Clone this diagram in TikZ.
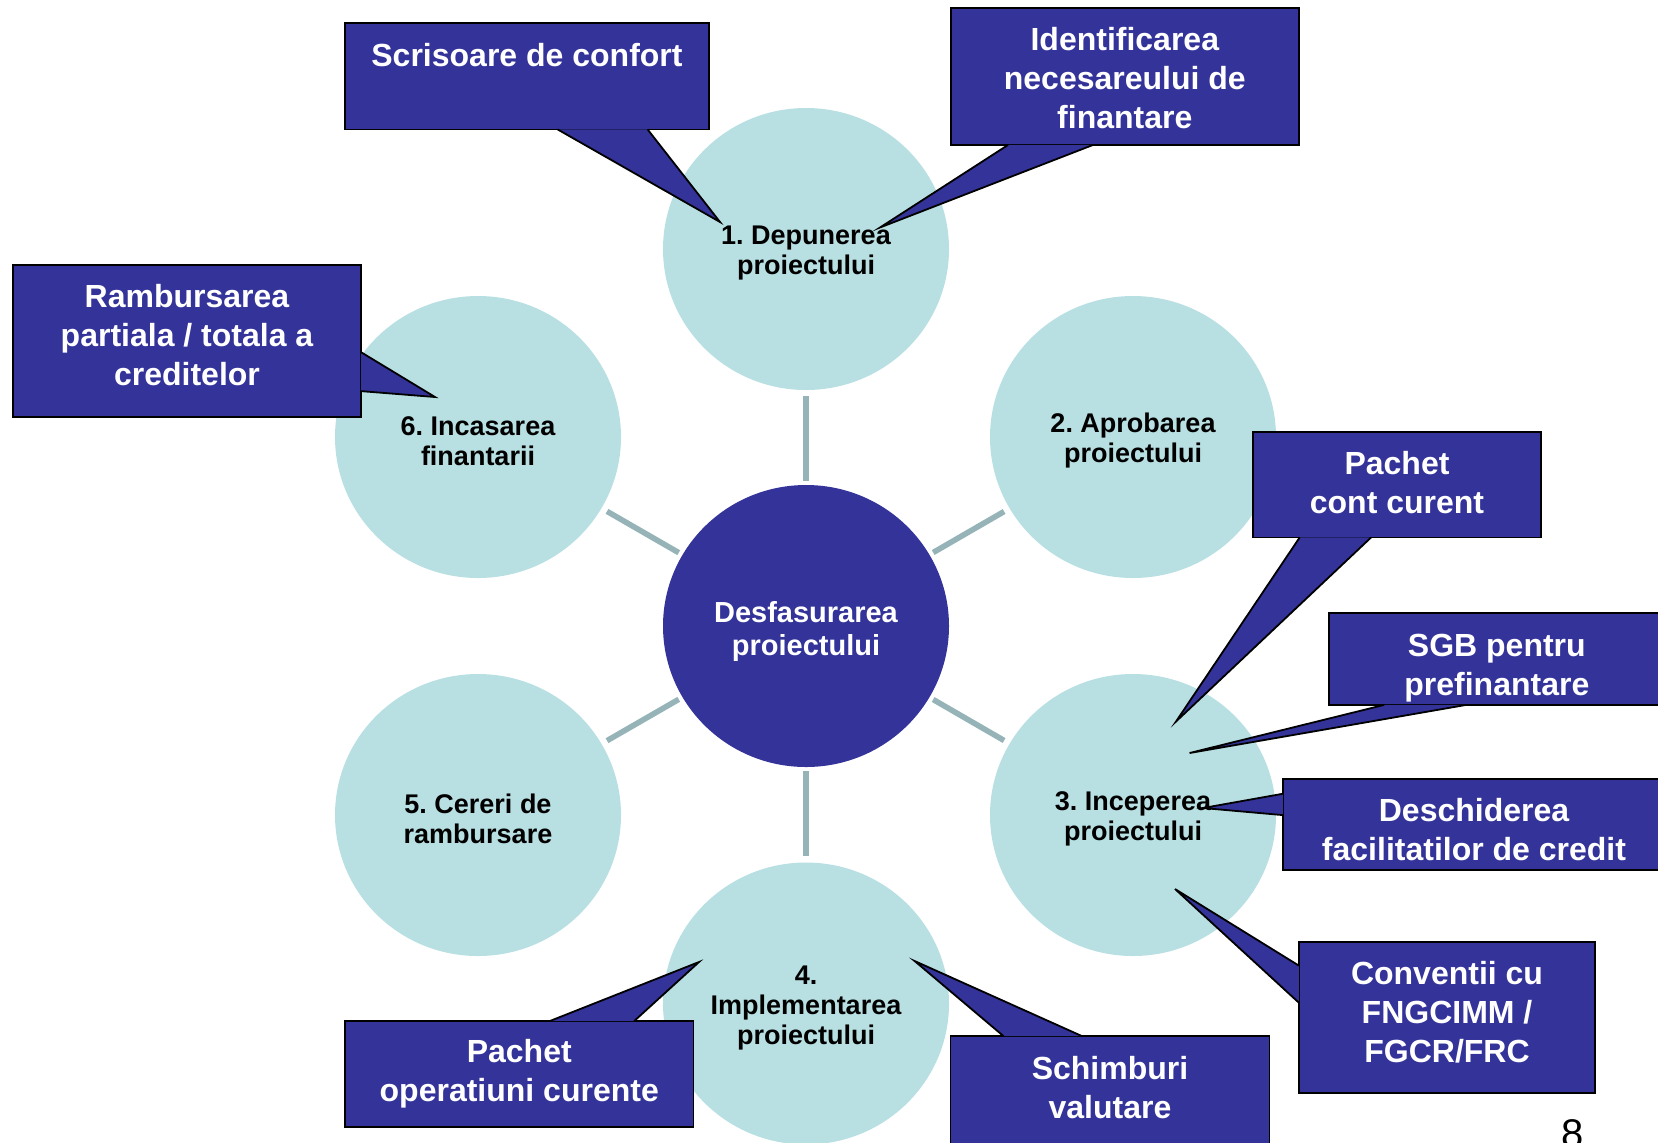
\documentclass[tikz,border=0pt]{standalone}
\usepackage{fontspec}
\setmainfont{Liberation Sans}
\usetikzlibrary{shapes.geometric,calc}
\frenchspacing

\definecolor{boxblue}{RGB}{51,51,153}
\definecolor{stagecyan}{RGB}{184,223,226}
\definecolor{spokegray}{RGB}{150,180,184}

\tikzset{
  stage/.style={ellipse, fill=stagecyan, minimum width=143pt, minimum height=141pt,
    inner sep=0pt, align=center, font=\fontsize{13.5}{14.9}\selectfont\bfseries},
  hub/.style={stage, fill=boxblue, text=white, font=\fontsize{14.5}{16.5}\selectfont\bfseries},
  note/.style={rectangle, draw=black, line width=0.9pt, fill=boxblue, text=white,
    inner sep=0pt, align=center, font=\fontsize{16}{19.4}\selectfont\bfseries},
  spoke/.style={draw=spokegray, line width=2.8pt, shorten <=3pt, shorten >=2pt},
}

% pointer of a note: base a, tip, base b
\newcommand{\pointer}[3]{%
  \fill[boxblue] #1 -- #2 -- #3 -- cycle;
  \draw[line width=0.9pt] #1 -- #2 -- #3;}
% struts to move a text a little down (top) or up (bottom)
\newcommand{\toppad}[1]{\rule{0pt}{#1}}
\newcommand{\botpad}[1]{\rule[-#1]{0pt}{0pt}}

\begin{document}
\begin{tikzpicture}[x=0.5pt, y=-0.5pt]
\useasboundingbox (0,0) rectangle (1658,1142);

% stages round the hub
\node[stage] (depunere) at (806,249) {\toppad{13.6pt}1. Depunerea\\proiectului};
\node[stage] (aprobare) at (1133,437) {\toppad{13.6pt}2. Aprobarea\\proiectului};
\node[stage] (incepere) at (1133,815) {\toppad{13.6pt}3. Inceperea\\proiectului};
\node[stage] (implement) at (806,1003.5) {\toppad{13.6pt}4.\\Implementarea\\proiectului};
\node[stage] (cereri) at (478,815) {\toppad{13.6pt}5. Cereri de\\rambursare};
\node[stage] (incasare) at (478,437) {\toppad{13.6pt}6. Incasarea\\finantarii};
\node[hub] (desfasurare) at (806,626) {\toppad{15.6pt}Desfasurarea\\proiectului};

% spokes
\draw[spoke] (depunere) -- (desfasurare);
\draw[spoke] (aprobare) -- (desfasurare);
\draw[spoke] (incepere) -- (desfasurare);
\draw[spoke] (implement) -- (desfasurare);
\draw[spoke] (cereri) -- (desfasurare);
\draw[spoke] (incasare) -- (desfasurare);

% notes
\node[note, minimum width=182pt, minimum height=53.25pt] (scrisoare) at (527,76.25) {Scrisoare de confort\\\botpad{2pt}};
\node[note, minimum width=174.2pt, minimum height=68.5pt] (identif) at (1124.8,76.5) {\toppad{13pt}Identificarea\\necesareului de\\finantare};
\node[note, minimum width=174pt, minimum height=76pt] (rambursare) at (187,341) {Rambursarea\\partiala / totala a\\creditelor\botpad{6.4pt}};
\node[note, minimum width=144pt, minimum height=52.75pt] (contcurent) at (1397,484.75) {Pachet\\cont curent\botpad{2.6pt}};
\node[note, minimum width=168.15pt, minimum height=46pt] (sgb) at (1496.85,659) {\toppad{20.2pt}SGB pentru\\prefinantare};
\node[note, minimum width=191pt, minimum height=45.5pt] (deschidere) at (1474,824.5) {\toppad{17pt}Deschiderea\\facilitatilor de credit};
\node[note, minimum width=148.25pt, minimum height=75.55pt] (conventii) at (1447,1017.15) {Conventii cu\\FNGCIMM /\\FGCR/FRC\botpad{5.1pt}};
\node[note, minimum width=159.5pt, minimum height=55pt] (schimburi) at (1110,1091) {Schimburi\\valutare\botpad{3.7pt}};
\node[note, minimum width=174.25pt, minimum height=53pt] (operatiuni) at (519.25,1074) {Pachet\\operatiuni curente};

% pointer tips
\coordinate (scrisoare tip) at (720,222);
\coordinate (identif tip) at (880,227.5);
\coordinate (rambursare tip) at (435,397);
\coordinate (contcurent tip) at (1176,721.5);
\coordinate (sgb tip) at (1189.6,753);
\coordinate (deschidere tip) at (1203,808);
\coordinate (conventii tip) at (1175,889);
\coordinate (schimburi tip) at (914.6,961);
\coordinate (operatiuni tip) at (699,962);

% pointers
\pointer{($(scrisoare.south west)+(213.5,-1)$)}{(scrisoare tip)}{($(scrisoare.south west)+(303.5,-1)$)}
\pointer{($(identif.south west)+(58.4,-1)$)}{(identif tip)}{($(identif.south west)+(143.4,-1)$)}
\pointer{($(rambursare.north east)+(-1,88)$)}{(rambursare tip)}{($(rambursare.north east)+(-1,127)$)}
\pointer{($(contcurent.south west)+(47.6,-1)$)}{(contcurent tip)}{($(contcurent.south west)+(119,-1)$)}
\pointer{($(sgb.south west)+(56.3,-1)$)}{(sgb tip)}{($(sgb.south west)+(138.3,-1)$)}
\pointer{($(deschidere.north west)+(1,15.6)$)}{(deschidere tip)}{($(deschidere.north west)+(1,37)$)}
\pointer{($(conventii.north west)+(1,24.9)$)}{(conventii tip)}{($(conventii.north west)+(1,62)$)}
\pointer{($(schimburi.north west)+(53.9,1)$)}{(schimburi tip)}{($(schimburi.north west)+(132.4,1)$)}
\pointer{($(operatiuni.north west)+(205.5,1)$)}{(operatiuni tip)}{($(operatiuni.north west)+(290,1)$)}

% page number
\node[font=\fontsize{20}{24}\selectfont, anchor=base] (pagenum) at (1573,1147) {8};
\end{tikzpicture}
\end{document}
